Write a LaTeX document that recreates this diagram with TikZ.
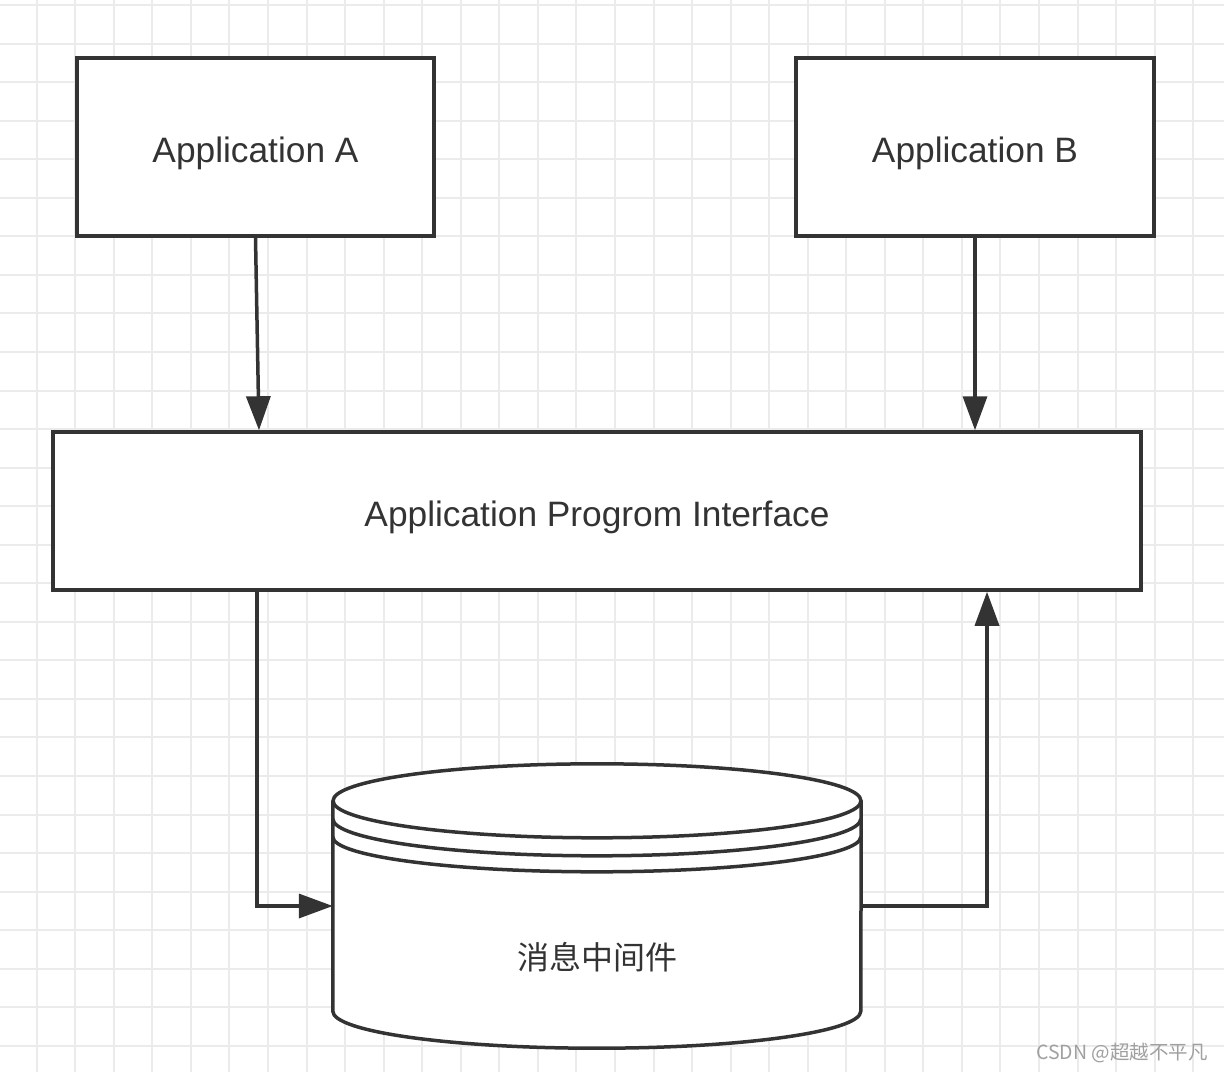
\documentclass[tikz,border=0pt]{standalone}
\usepackage{fontspec}
\setmainfont{Liberation Sans}
\newfontfamily\cjk{Noto Sans CJK SC}
\usetikzlibrary{arrows.meta,calc}
\definecolor{ink}{HTML}{333333}
\definecolor{gridc}{HTML}{EBEBEB}
\definecolor{wm}{HTML}{A0A0A0}
\tikzset{
  box/.style={draw=ink, line width=3.5pt, fill=white, inner sep=0pt},
  lbl/.style={text=ink, font=\fontsize{35.3}{40}\selectfont, inner sep=0pt},
  arr/.style={draw=ink, line width=3.5pt, -{Triangle[length=34pt,width=24pt]}},
  conn/.style={draw=ink, line width=3.5pt},
}
\begin{document}
\begin{tikzpicture}[x=1pt,y=-1pt]
\useasboundingbox (0,0) rectangle (1224,1072);
\fill[white] (0,0) rectangle (1224,1072);
% grid
\begin{scope}
\clip (0,0) rectangle (1224,1072);
\foreach \i in {0,...,30} \draw[gridc, line width=2pt] ({36.7+38.55*\i},0) -- ++(0,1072);
\foreach \j in {0,...,27} \draw[gridc, line width=2pt] (0,{5+38.55*\j}) -- ++(1224,0);
\end{scope}
% boxes
\node[box, minimum width=357pt, minimum height=178pt] (appA) at (255.5,147) {};
\node[lbl] (appAt) at ([yshift=-6pt]appA.center) {Application A};
\node[box, minimum width=358pt, minimum height=178pt] (appB) at (975,147) {};
\node[lbl] (appBt) at ([yshift=-6pt]appB.center) {Application B};
\node[box, minimum width=1088pt, minimum height=158pt] (api) at (597,511) {};
\node[lbl] (apit) at ([yshift=-6pt]api.center) {Application Progrom Interface};
% cylinder
\node[minimum width=528pt, minimum height=210pt, inner sep=0pt] (db) at (597,906) {};
\begin{scope}[draw=ink, line width=3.5pt]
\draw[fill=white] (db.north west) -- (db.south west)
  arc[start angle=180, end angle=360, x radius=264pt, y radius=37pt] -- (db.north east);
\draw[fill=white] (db.north) ellipse[x radius=264pt, y radius=37pt];
\draw ([yshift=-18pt]db.north west) arc[start angle=180, end angle=360, x radius=264pt, y radius=37pt];
\draw ([yshift=-36pt]db.north west) arc[start angle=180, end angle=360, x radius=264pt, y radius=35pt];
\end{scope}
\node[text=ink, font=\cjk\fontsize{32}{36}\selectfont, inner sep=0pt] (dbt) at (597,957) {消息中间件};
% connectors
\draw[arr] (appA.south) -- ([xshift=3.5pt]appA.south |- api.north);
\draw[arr] (appB.south) -- (appB.south |- api.north);
\draw[arr] ([xshift=1.5pt]appA.south |- api.south) -- ([xshift=1.5pt]appA.south |- db.west) -- (db.west);
\coordinate (up) at ([xshift=12pt]appB.south |- api.south);
\draw[arr] (db.east) -| (up);
% watermark
\node[text=wm, font=\cjk\fontsize{19.5}{22}\selectfont, inner sep=0pt, anchor=east] (wmk) at (1208,1053) {CSDN @超越不平凡};
\end{tikzpicture}
\end{document}
